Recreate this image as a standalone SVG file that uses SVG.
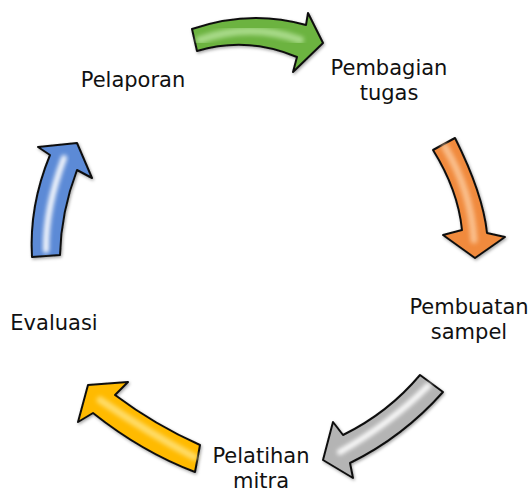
<svg xmlns="http://www.w3.org/2000/svg" width="531" height="493" viewBox="0 0 531 493">
  <defs>
    <filter id="shadow" x="-20%" y="-20%" width="140%" height="140%">
      <feDropShadow dx="1" dy="1.5" stdDeviation="1.5" flood-color="#000" flood-opacity="0.35"/>
    </filter>
    <filter id="soft" x="-30%" y="-30%" width="160%" height="160%">
      <feGaussianBlur stdDeviation="2.2"/>
    </filter>
  </defs>
  <style>
    .lbl { font-family: "DejaVu Sans", "Open Sans", sans-serif; font-size: 21px; fill: #111; text-anchor: middle; }
    .arrow { stroke: #111; stroke-width: 2; stroke-linejoin: round; filter: url(#shadow); }
    .hl { fill: none; stroke-linecap: round; filter: url(#soft); }
  </style>

  <g id="connectors">
    <g id="arrow-green">
      <path class="arrow" fill="#6cb33f" d="M192,29 Q250,9 306,25 L308,13 L323,43 L293,72 L297,57 Q247,36 197,51 Z"/>
      <path class="hl" stroke="#b6e39a" stroke-width="8" opacity="0.8" d="M200,40 Q250,22 300,40"/>
    </g>
    <g id="arrow-orange">
      <path class="arrow" fill="#f08a3c" d="M433,150 L455,138 Q483,194 487,233 L505,237 L475,258 L443,235 L462,230 Q458,190 433,150 Z"/>
      <path class="hl" stroke="#fcc89a" stroke-width="7" opacity="0.85" d="M445,147 Q471,191 474,240"/>
    </g>
    <g id="arrow-gray">
      <path class="arrow" fill="#b4b4b4" d="M420,375 L443,392 Q403,437 350,463 L353,478 L323,460 L333,422 L343,435 Q388,413 420,375 Z"/>
      <path class="hl" stroke="#ffffff" stroke-width="6" opacity="0.95" d="M428,386 Q391,423 340,452"/>
    </g>
    <g id="arrow-yellow">
      <path class="arrow" fill="#ffba00" d="M200,445 L195,472 Q142,452 93,413 L78,422 L88,385 L128,382 L115,395 Q155,425 200,445 Z"/>
      <path class="hl" stroke="#ffe27a" stroke-width="7" opacity="0.85" d="M194,457 Q149,433 100,400"/>
    </g>
    <g id="arrow-blue">
      <path class="arrow" fill="#5b8ad6" d="M32,257 L60,255 Q61,212 77,170 L92,178 L77,143 L38,147 L50,155 Q29,206 32,257 Z"/>
      <path class="hl" stroke="#ffffff" stroke-width="6" opacity="0.95" d="M46,250 Q45.5,208 64,158"/>
    </g>
  </g>

  <g id="node-pembagian">
    <text class="lbl" x="389" y="75">Pembagian</text>
    <text class="lbl" x="389" y="100">tugas</text>
  </g>
  <g id="node-pembuatan">
    <text class="lbl" x="469" y="314">Pembuatan</text>
    <text class="lbl" x="469" y="339">sampel</text>
  </g>
  <g id="node-pelatihan">
    <text class="lbl" x="261" y="463">Pelatihan</text>
    <text class="lbl" x="261" y="488">mitra</text>
  </g>
  <g id="node-evaluasi">
    <text class="lbl" x="54" y="330">Evaluasi</text>
  </g>
  <g id="node-pelaporan">
    <text class="lbl" x="133" y="87">Pelaporan</text>
  </g>
</svg>
